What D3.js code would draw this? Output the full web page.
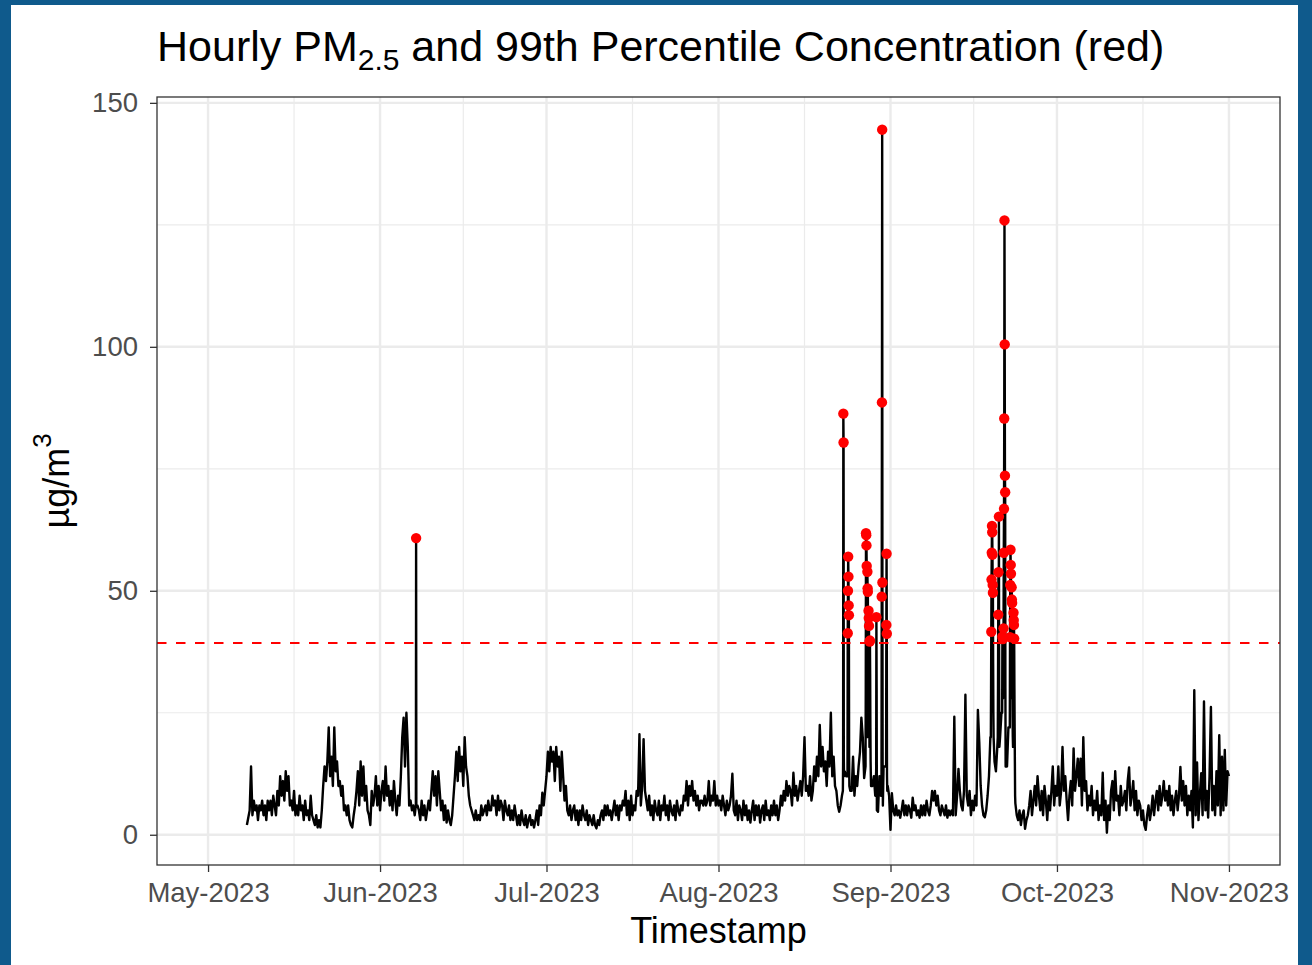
<!DOCTYPE html>
<html>
<head>
<meta charset="utf-8">
<script src="https://cdn.jsdelivr.net/npm/d3@7"></script>
<style>
  body { margin:0; background:#0f5a8c; }
  svg text { font-family: "Liberation Sans", Arial, sans-serif; }
</style>
</head>
<body>
<div id="chart"></div>
<script>
// hourly PM2.5: a 6-hourly base series (00,06,12,18h per day) from May 8
const baseStart = "2023-05-08T00:00";
const baseStepHours = 6;
const baseValues = [
  // May 8 - May 31
  2,3.5,5,14, 4,7,5,6, 3,6,5,7, 4,6,3,7, 5,7,4,8, 6,4,9,6, 12,8,11,7, 13,9,12,6,
  7,5,9,4, 6,4,8,5, 6,3,7,4, 5,3,8,4, 3,2,4,1.5, 3,1.5,5,10, 14,11,15,22, 12,16,10,22,
  13,15,10,11, 8,10,5,6, 4,6,3,2, 1.5,4,6,9, 13,6,15,8, 14,7,10,5, 4,2,9,6, 8,12,6,10,
  // June
  5,9,11,7, 14,8,10,6, 9,5,11,7, 4,8,6,12, 20,24,14,25, 18,6,7,5, 6,4,5,6, 5,3,7,4,
  6,3,5,7, 5,9,13,8, 12,6,13,9, 5,7,3,6, 2.5,5,3,2, 4,8,12,17, 11,18,13,16, 10,20,14,12,
  8,6,5,4, 3,5,3,4, 3,6,4,5, 6,4,7,5, 5,8,6,7, 4,8,5,7, 6,3,7,5, 4,6,3,5,
  3,6,4,2, 4,2,5,3, 2,4,1.5,3, 4,2,3,1.5, 3,5,2,6, 4,8.6,6,9,
  // July
  12,17,13,18, 15,17,11,18, 14,16,9,17, 12,7,10,5, 4,6,3,5, 6,3,5,2, 5,3,6,4, 3,5,2,4,
  3,2,4,2, 1.3,3,2,4, 5,3,6,4, 6,4,5,3, 5,7,4,6, 3,6,5,7, 6,9,4,7, 3,8,4,6,
  5,9,8,20.6, 6,10,19.6,9, 7,5,8,4, 6,3,7,5, 4,7,3,6, 5,8,4,6, 3,7,5,4, 6,3,7,5,
  4,6,5,8, 7,11,6,10, 8,11,7,9, 6,8,5,7, 7,6,8,6, 7,11,6,8, 7,11,6,8,
  // August
  6,7,5,8, 6,4,7,5, 6,8,12.5,5, 4,7,3,6, 5,3,7,4, 6,3,5,2.5, 5,7,3,6, 4,6,2.5,5,
  6,3,7,4, 5,3,6,4, 7,4,6,3, 5,8,6,9, 7,11,8,10, 9,6,12.7,8, 10,7,9,11, 8,12,20,9,
  10,8,12,7, 9,14,11,16, 12,22.5,14,18, 13,15,10,17, 14,25,12,16, 10,9,6,4.7, 6,8,10,13, 12,10,14,9,
  9,16,8,12, 10,14,17,24, 20,11.6,14,25, 20,15,13,10, 12,8,13,4.7, 12,8,10,14, 14,12,10,8,
  // September
  1,8.5,5,4, 6,4,5,3.5, 5,7,4,6, 4,6,5,3.5, 7.6,5,6,4, 5,3.5,6,4, 6,4,7,5, 4,6,9,7,
  9,6,8,5, 4,6,5,4, 6,3.5,5,4, 5,4,24.2,4, 8,13.5,9,6, 5,9,28.7,8, 6,9,4,7, 5,8,6,25.6,
  19,10,6,4, 3.6,5,8,12, 20,30,28,15, 13,18,22,20, 25,18,24,13, 14,22,26,18, 15,12,6.5,4, 3,5,2,4,
  5,1.2,3,4, 6,9,4,7, 10,6,12,8, 5,9,4,10, 7,3,8,5, 9,14,6,10,
  // October
  8,14,6,9, 18,9,12,7, 3,8,11,6, 17.7,9,12,15.6, 10,15.6,6,20, 9,11,5,8, 6,10,4,7, 5,9,3,6,
  4,12.7,3,7, 0.4,6,3,9, 11,5,13,7, 8,4,10,6, 7,9,5,11, 13.8,6,8,11, 5,9,4,7, 6,3,5,2,
  1,4,6,3, 5,8,4,7, 9,5,10,6, 8,11,7,9, 6,10,5,8, 4,7,9,5, 8,13.9,7,11, 6,10,4,8,
  5,9,1.5,29.6, 4,14.8,3,8, 12.6,4,27.3,5, 9,3.5,12,26.2, 5,10,4,13, 6,20.4,4,16, 5,17.4,6,13,
  12
];

// short pollution episodes, hourly values from each start
const episodeStarts = [
  "2023-06-07T11:00", "2023-08-23T10:00", "2023-08-24T06:00", "2023-08-27T12:00",
  "2023-08-29T10:00", "2023-08-30T09:00", "2023-08-31T05:00", "2023-09-19T02:00",
  "2023-09-20T08:00", "2023-09-21T03:00", "2023-09-22T12:00"
];
const episodeValues = [
  [6, 60.8, 6],
  [9, 15, 86.3, 80.4, 16, 12],
  [12, 41.3, 50, 57, 52.9, 47, 45, 16, 10],
  [14, 30, 61.8, 61.4, 59.3, 55.1, 28, 20, 53.9, 50.5, 49.8, 35, 25, 45.9, 44.4, 42.8, 30, 18, 39.6, 39.8, 33, 22, 15, 12, 10],
  [13, 44.6, 30, 5],
  [8, 48.8, 88.6, 144.5, 51.7, 14, 6],
  [14, 43, 57.6, 41.2, 12, 9],
  [20, 30, 41.6, 52.3, 57.8, 63.3, 62, 57.4, 51.2, 49.6, 35, 25, 20],
  [20, 30, 45.1, 53.8, 38, 65.2, 30, 18],
  [25, 40.6, 30, 40.1, 28, 35, 42.3, 57.8, 66.8, 85.3, 125.9, 100.5, 73.6, 70.2, 30, 14],
  [22, 40.5, 51.2, 58.4, 55.3, 53.5, 36, 28, 50.7, 48.2, 47.5, 32, 24, 20, 18, 26, 45.5, 44, 43, 40.2, 30, 22, 15, 8]
];

const p99 = 39.3;
const yTicks = [0, 50, 100, 150];
const yMinor = [25, 75, 125];
const monthTicks = ["2023-05-01","2023-06-01","2023-07-01","2023-08-01","2023-09-01","2023-10-01","2023-11-01"];

const width = 1312, height = 965;
const panel = {left:157, right:1280, top:97, bottom:865};
const parseHour = d3.timeParse("%Y-%m-%dT%H:%M");
const parseDay = d3.timeParse("%Y-%m-%d");

function buildSeries(){
    let windows = episodeStarts.map(function(s,i){
        let t0 = parseHour(s);
        return [t0, d3.timeHour.offset(t0, episodeValues[i].length-1)];
    });
    let t0 = parseHour(baseStart);
    let pts = baseValues.map((v,i) => ({t: d3.timeHour.offset(t0, i*baseStepHours), v: v}))
        .filter(p => !windows.some(w => p.t >= w[0] && p.t <= w[1]));
    episodeValues.forEach(function(vals,i){
        vals.forEach((v,j) => pts.push({t: d3.timeHour.offset(windows[i][0], j), v: v}));
    });
    pts.sort((a,b) => a.t - b.t);
    return pts;
}

function computeXScale(){
    // limits May 1 - Nov 1 with ggplot's 5% expansion
    let lo = parseDay(monthTicks[0]), hi = parseDay(monthTicks[monthTicks.length-1]);
    let pad = (hi - lo) * 0.05;
    return d3.scaleTime()
        .domain([new Date(+lo - pad), new Date(+hi + pad)])
        .range([panel.left, panel.right]);
}
function computeYScale(){
    return d3.scaleLinear()
        .domain([-6.2, 151.2])
        .range([panel.bottom, panel.top]);
}

function setupVis(){
    let data = buildSeries();
    let svg = d3.select("#chart").append("svg")
        .attr("width", width)
        .attr("height", height);
    svg.append("rect").attr("width", width).attr("height", height).attr("fill", "#0f5a8c");
    svg.append("rect").attr("x", 11).attr("y", 5).attr("width", 1287).attr("height", 960).attr("fill", "white");

    let x = computeXScale();
    let y = computeYScale();
    let months = monthTicks.map(parseDay);
    let midMonths = d3.pairs(months).map(p => new Date((+p[0] + +p[1]) / 2));

    // grid
    let grid = svg.append("g").attr("stroke", "#ebebeb").attr("fill", "none");
    grid.selectAll(".ymin").data(yMinor).join("line")
        .attr("x1", panel.left).attr("x2", panel.right)
        .attr("y1", d => y(d)).attr("y2", d => y(d)).attr("stroke-width", 1.2);
    grid.selectAll(".xmin").data(midMonths).join("line")
        .attr("x1", d => x(d)).attr("x2", d => x(d))
        .attr("y1", panel.top).attr("y2", panel.bottom).attr("stroke-width", 1.2);
    grid.selectAll(".ymaj").data(yTicks).join("line")
        .attr("x1", panel.left).attr("x2", panel.right)
        .attr("y1", d => y(d)).attr("y2", d => y(d)).attr("stroke-width", 2.4);
    grid.selectAll(".xmaj").data(months).join("line")
        .attr("x1", d => x(d)).attr("x2", d => x(d))
        .attr("y1", panel.top).attr("y2", panel.bottom).attr("stroke-width", 2.4);

    drawLine(svg, {x:x, y:y}, data);

    // panel border
    svg.append("rect")
        .attr("x", panel.left).attr("y", panel.top)
        .attr("width", panel.right - panel.left).attr("height", panel.bottom - panel.top)
        .attr("fill", "none").attr("stroke", "#333333").attr("stroke-width", 1.3);

    // axes
    let xAxis = d3.axisBottom(x).tickValues(months).tickFormat(d3.timeFormat("%b-%Y"))
        .tickSize(7).tickPadding(10);
    let gx = svg.append("g").attr("transform", "translate(0," + panel.bottom + ")").call(xAxis);
    let yAxis = d3.axisLeft(y).tickValues(yTicks).tickSize(7).tickPadding(12);
    let gy = svg.append("g").attr("transform", "translate(" + panel.left + ",0)").call(yAxis);
    [gx, gy].forEach(function(g){
        g.select(".domain").remove();
        g.selectAll(".tick line").attr("stroke", "#333333").attr("stroke-width", 1.3);
        g.selectAll(".tick text").attr("fill", "#4d4d4d").style("font-size", "27.5px")
            .style("font-family", "'Liberation Sans', Arial, sans-serif");
    });

    // titles
    let title = svg.append("text").attr("x", panel.left).attr("y", 61)
        .attr("fill", "black").style("font-size", "43px");
    title.append("tspan").text("Hourly PM");
    title.append("tspan").attr("dy", 9).style("font-size", "30px").text("2.5");
    title.append("tspan").attr("dy", -9).text(" and 99th Percentile Concentration (red)");

    svg.append("text").attr("x", (panel.left + panel.right) / 2).attr("y", 943)
        .attr("text-anchor", "middle").style("font-size", "36px").text("Timestamp");

    let ylab = svg.append("text")
        .attr("transform", "translate(69," + ((panel.top + panel.bottom) / 2) + ") rotate(-90)")
        .attr("text-anchor", "middle").style("font-size", "36px");
    ylab.append("tspan").text("\u00b5g/m");
    ylab.append("tspan").attr("dy", -18).style("font-size", "26px").text("3");
}

function drawLine(svg, scales, data){
    let line = d3.line()
        .x(d => scales.x(d.t))
        .y(d => scales.y(d.v));
    svg.append("path")
        .datum(data)
        .attr("d", line)
        .attr("fill", "none")
        .attr("stroke", "black")
        .attr("stroke-width", 2.4)
        .attr("stroke-linejoin", "round");

    // 99th percentile line
    svg.append("line")
        .attr("x1", panel.left).attr("x2", panel.right)
        .attr("y1", scales.y(p99)).attr("y2", scales.y(p99))
        .attr("stroke", "#ff0000").attr("stroke-width", 2.2)
        .attr("stroke-dasharray", "9.5,9.5");

    svg.selectAll("circle.hi")
        .data(data.filter(d => d.v >= p99))
        .join("circle")
            .attr("class", "hi")
            .attr("cx", d => scales.x(d.t))
            .attr("cy", d => scales.y(d.v))
            .attr("r", 5.2)
            .attr("fill", "#ff0000");
}

setupVis();
</script>
</body>
</html>
